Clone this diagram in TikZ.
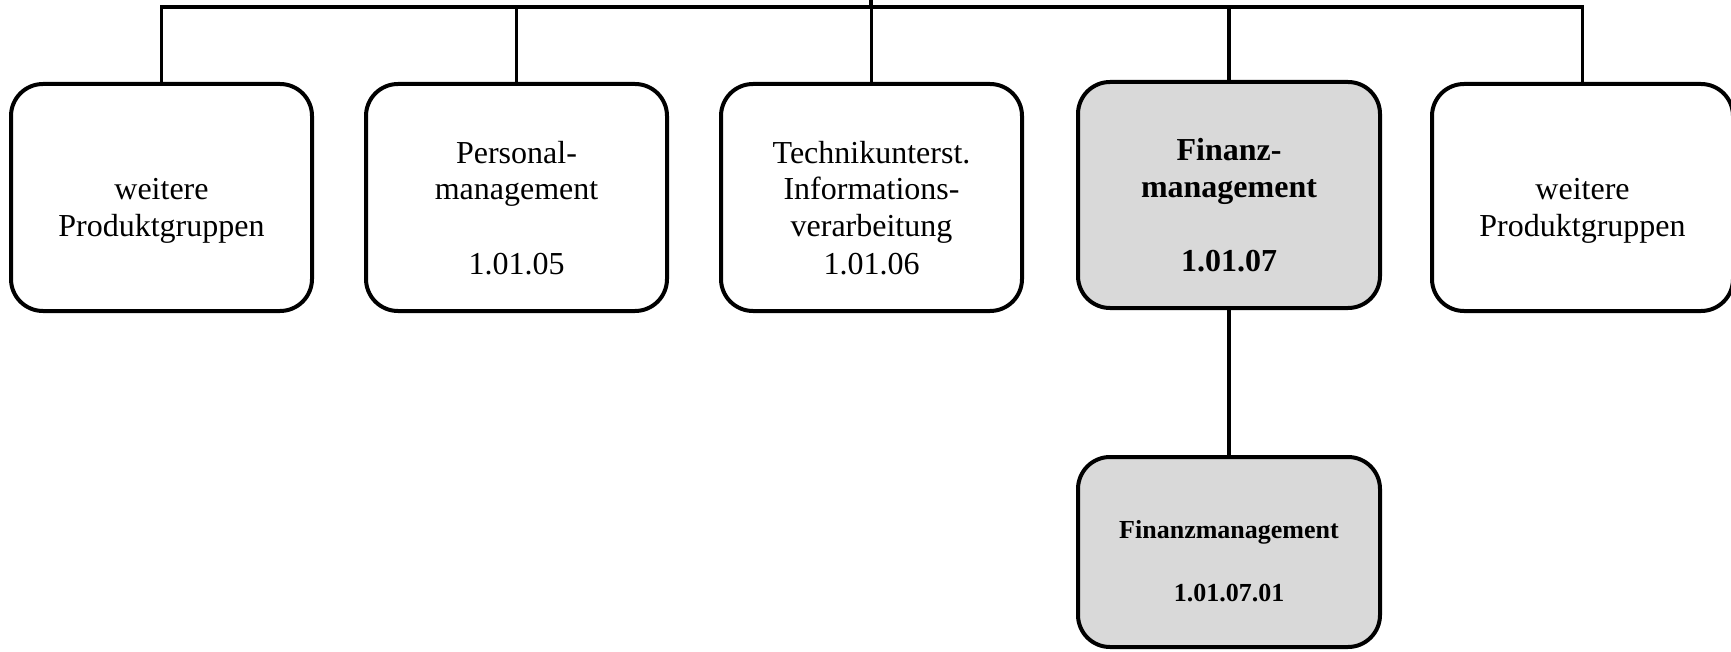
\documentclass[tikz,border=0pt]{standalone}
\usepackage{fontspec}
\setmainfont{Liberation Serif}
\definecolor{boxgray}{RGB}{217,217,217}
\begin{document}
\begin{tikzpicture}[x=1pt,y=-1pt,
  orgbox/.style={draw=black, line width=4pt, rounded corners=32pt,
    minimum width=301pt, minimum height=227pt, inner sep=0pt, fill=white},
  orgboxsel/.style={orgbox, fill=boxgray, minimum width=302pt, minimum height=226pt},
  orgboxsub/.style={orgboxsel, minimum height=190pt},
  boxtext/.style={align=center, inner sep=0pt, font=\fontsize{32}{37}\selectfont},
  boxtextbold/.style={boxtext, font=\fontsize{32}{37}\selectfont\bfseries},
  boxtextsub/.style={align=center, inner sep=0pt, font=\fontsize{26}{31.5}\selectfont\bfseries},
  link/.style={draw=black, line width=3.6pt, line join=miter}]

\clip (0,0) rectangle (1731,652);

% organisational units
\node[orgbox]    (b1) at (161.5,197.5) {};
\node[orgbox]    (b2) at (516.5,197.5) {};
\node[orgbox]    (b3) at (871.5,197.5) {};
\node[orgboxsel] (b4) at (1229,195)    {};
\node[orgbox]    (b5) at (1582.5,197.5) {};
\node[orgboxsub] (b6) at (1229,552)    {};

% texts of the units
\node[boxtext] (t1) at ([yshift=-13.6pt]b1.center) {\strut weitere\\\strut Produktgruppen};
\node[boxtext] (t2) at ([yshift=-13.6pt]b2.center) {\strut Personal-\\\strut management\\\strut\\\strut 1.01.05};
\node[boxtext] (t3) at ([yshift=-13.6pt]b3.center) {\strut Technikunterst.\\\strut Informations-\\\strut verarbeitung\\\strut 1.01.06};
\node[boxtextbold] (t4) at ([yshift=-13.6pt]b4.center) {\strut Finanz-\\\strut management\\\strut\\\strut 1.01.07};
\node[boxtext] (t5) at ([yshift=-13.6pt]b5.center) {\strut weitere\\\strut Produktgruppen};
\node[boxtextsub] (t6) at ([yshift=-11.2pt]b6.center) {\strut Finanzmanagement\\\strut\\\strut 1.01.07.01};

% connectors
\coordinate (bar)  at (0,7);
\coordinate (root) at (871,-3);
\draw[link] (b1.north) -- (b1.north |- bar) -- (b5.north |- bar) -- (b5.north);
\draw[link] (b2.north) -- (b2.north |- bar);
\draw[link] (b3.north) -- (b3.north |- bar);
\draw[link] (b4.north) -- (b4.north |- bar);
\draw[link] (root) -- (root |- bar);
\draw[link] (b4.south) -- (b6.north);
\end{tikzpicture}
\end{document}
